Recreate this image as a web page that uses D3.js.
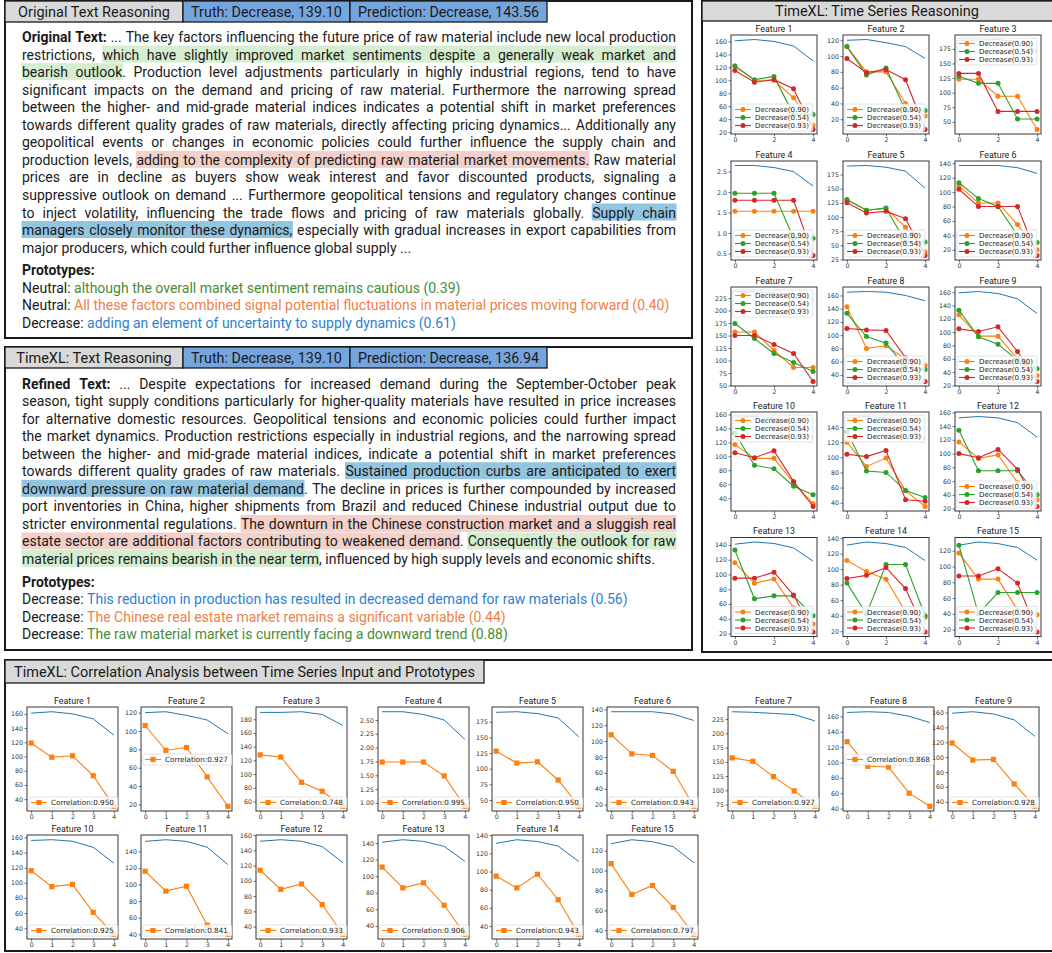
<!DOCTYPE html>
<meta charset="utf-8">
<head>
<style>
body {margin:0; background:#fff;}
</style>
</head>
<body>
<div id="fig"></div>
<script src="https://d3js.org/d3.v7.min.js"></script>
<script>
// ---- data ----
const featureNames = d3.range(1, 16).map(i => "Feature " + i);

// input series (blue line), same in both chart panels
const inputSeries = [
  [161,163,160,153,130], [120,121,117,112,97], [190,190,191,187,171],
  [2.65,2.65,2.60,2.50,2.15], [190,191,188,181,151], [137,137,137,134,126],
  [238,237,235,233,222], [165,166,165,160,152], [159,161,158,150,128],
  [156,157,155,147,126], [152,154,152,145,124], [152,154,152,145,124],
  [141,144,142,136,118], [131,135,133,128,111], [127,131,129,124,108]
];

// time series prototypes
const protoLabels = ["Decrease(0.90)", "Decrease(0.54)", "Decrease(0.93)"];
const protoOrange = [
  [122,100,100,73,30], [112,80,80,40,24], [123,123,94,94,37],
  [1.53,1.53,1.53,1.53,1.53], [130,112,115,82,38], [109,85,85,55,20],
  [157,157,120,86,86], [143,80,84,64,54], [126,94,94,60,35],
  [117,97,97,62,32], [120,88,99,56,35], [117,93,98,58,33],
  [116,88,94,55,33], [111,97,87,45,38], [117,84,84,45,39]
];
const protoGreen = [
  [122,101,106,47,47], [112,76,85,31,31], [128,116,116,55,55],
  [1.97,1.97,1.97,0.87,0.87], [131,112,116,56,56], [113,91,80,40,30],
  [174,144,114,96,78], [133,98,88,52,48], [133,93,82,58,45],
  [133,87,82,57,45], [134,82,80,56,47], [134,75,75,75,40],
  [133,67,71,71,44], [82,42,106,106,40], [127,40,67,67,67]
];
const protoRed = [
  [115,97,101,87,24], [97,79,83,70,7], [133,133,68,68,68],
  [1.80,1.80,1.80,1.80,0.45], [125,107,110,97,32], [104,80,80,80,12],
  [150,150,132,114,58], [110,108,107,66,30], [105,101,108,71,26],
  [105,98,108,64,28], [104,101,109,44,42], [100,94,106,77,23],
  [95,95,103,72,22], [88,92,102,75,19], [88,88,97,79,17]
];
const tsLegendPos = ["low","low","up","low","low","low","up","low","low","up","up","low","low","low","low"];
const tsTickStep = [20,20,25,0.5,25,20,25,20,20,20,20,20,20,20,20];
const tsXTicks = [0, 2, 4];

// correlation panel
const corrSeries = [
  [119,99,101,73,30], [106,79,82,50,18], [128,125,88,75,53],
  [1.74,1.74,1.74,1.49,0.94], [128,109,111,82,40], [108,84,82,62,18],
  [157,151,124,99,72], [127,95,94,60,43], [119,96,97,64,34],
  [116,95,98,61,32], [116,92,98,51,40], [114,89,96,69,30],
  [111,86,92,65,30], [95,82,97,69,31], [107,76,85,63,36]
];
const corrValues = ["0.950","0.927","0.748","0.995","0.950","0.943","0.927","0.868","0.928",
                    "0.925","0.841","0.933","0.906","0.943","0.797"];
const corrLegendPos = ["low","mid","low","low","low","low","low","mid","low","low","low","low","low","low","low"];
const corrTickStep = [20,20,20,0.25,25,20,25,20,20,20,20,20,20,20,20];
const corrXTicks = [0, 1, 2, 3, 4];

// text panels
const origHeader = ["Original Text Reasoning", "Truth: Decrease, 139.10", "Prediction: Decrease, 143.56"];
const origLines = [
  [["b","Original Text:"],[""," ... The key factors influencing the future price of raw material include new local production"]],
  [["","restrictions, "],["hg","which have slightly improved market sentiments despite a generally weak market and"]],
  [["hg","bearish outlook"],["",". Production level adjustments particularly in highly industrial regions, tend to have"]],
  [["","significant impacts on the demand and pricing of raw material. Furthermore the narrowing spread"]],
  [["","between the higher- and mid-grade material indices indicates a potential shift in market preferences"]],
  [["","towards different quality grades of raw materials, directly affecting pricing dynamics... Additionally any"]],
  [["","geopolitical events or changes in economic policies could further influence the supply chain and"]],
  [["","production levels, "],["hr","adding to the complexity of predicting raw material market movements."],[""," Raw material"]],
  [["","prices are in decline as buyers show weak interest and favor discounted products, signaling a"]],
  [["","suppressive outlook on demand ... Furthermore geopolitical tensions and regulatory changes continue"]],
  [["","to inject volatility, influencing the trade flows and pricing of raw materials globally. "],["hb","Supply chain"]],
  [["hb","managers closely monitor these dynamics,"],[""," especially with gradual increases in export capabilities from"]],
  [["","major producers, which could further influence global supply ..."]]
];
const origProtos = [
  [["","Neutral: "],["pg","although the overall market sentiment remains cautious (0.39)"]],
  [["","Neutral: "],["po","All these factors combined signal potential fluctuations in material prices moving forward (0.40)"]],
  [["","Decrease: "],["pb","adding an element of uncertainty to supply dynamics (0.61)"]]
];
const refHeader = ["TimeXL: Text Reasoning", "Truth: Decrease, 139.10", "Prediction: Decrease, 136.94"];
const refLines = [
  [["b","Refined Text:"],[""," ... Despite expectations for increased demand during the September-October peak"]],
  [["","season, tight supply conditions particularly for higher-quality materials have resulted in price increases"]],
  [["","for alternative domestic resources. Geopolitical tensions and economic policies could further impact"]],
  [["","the market dynamics. Production restrictions especially in industrial regions, and the narrowing spread"]],
  [["","between the higher- and mid-grade material indices, indicate a potential shift in market preferences"]],
  [["","towards different quality grades of raw materials. "],["hb","Sustained production curbs are anticipated to exert"]],
  [["hb","downward pressure on raw material demand"],["",". The decline in prices is further compounded by increased"]],
  [["","port inventories in China, higher shipments from Brazil and reduced Chinese industrial output due to"]],
  [["","stricter environmental regulations. "],["hr","The downturn in the Chinese construction market and a sluggish real"]],
  [["hr","estate sector are additional factors contributing to weakened demand"],["",". "],["hg","Consequently the outlook for raw"]],
  [["hg","material prices remains bearish in the near term"],["",", influenced by high supply levels and economic shifts."]]
];
const refProtos = [
  [["","Decrease: "],["pb","This reduction in production has resulted in decreased demand for raw materials (0.56)"]],
  [["","Decrease: "],["po","The Chinese real estate market remains a significant variable (0.44)"]],
  [["","Decrease: "],["pg","The raw material market is currently facing a downward trend (0.88)"]]
];

// ---- styling ----
const TEXT_FONT = "Roboto, 'Open Sans', sans-serif";
const PLOT_FONT = "'DejaVu Sans', sans-serif";
const hiColor = {hg:"#d6eed0", hr:"#f3d0c9", hb:"#93c4e0"};
const txtColor = {pg:"#4a8c38", po:"#ef8048", pb:"#2f7fcf"};
const C_BLUE = "#1f77b4", C_ORANGE = "#ff7f0e", C_GREEN = "#2ca02c", C_RED = "#d62728";

const svg = d3.select("#fig").append("svg").attr("width", 1052).attr("height", 953);

const meas = svg.append("text").attr("x", -1000).attr("y", -1000).attr("font-family", TEXT_FONT);
function measure(t, fs, weight, fam) {
  meas.attr("font-size", fs).attr("font-weight", weight || 400).attr("font-family", fam || TEXT_FONT);
  return meas.text(t).node().getComputedTextLength();
}

// plot font sizes fitted to widths seen in the figure
const tickFs = 10 * 12 / measure("160", 10, 400, PLOT_FONT);
const tsLegFs = 10 * 54 / measure("Decrease(0.90)", 10, 400, PLOT_FONT);
const corrLegFs = 10 * 63 / measure("Correlation:0.950", 10, 400, PLOT_FONT);
const titleFs = 10 * 37 / measure("Feature 1", 10, 400, TEXT_FONT);

function lineWords(segs) {
  const words = [[]];
  segs.forEach(([st, txt]) => {
    txt.split(" ").forEach((p, i) => {
      if (i > 0) words.push([]);
      if (p) words[words.length - 1].push({st: st, t: p});
    });
  });
  return words.filter(w => w.length);
}

function naturalWidth(segs, fs) {
  const words = lineWords(segs);
  const sp = measure("a a", fs) - measure("aa", fs);
  return d3.sum(words, w => d3.sum(w, p => measure(p.t, fs, p.st === "b" ? 700 : 400))) + sp * (words.length - 1);
}

function drawLine(g, segs, x0, yc, width, justify, fs) {
  const words = lineWords(segs);
  words.forEach(w => w.forEach(p => p.w = measure(p.t, fs, p.st === "b" ? 700 : 400)));
  const total = d3.sum(words, w => d3.sum(w, p => p.w));
  const sp = measure("a a", fs) - measure("aa", fs);
  const gap = (justify && words.length > 1) ? (width - total) / (words.length - 1) : sp;
  let x = x0;
  const hiLayer = g.append("g"), txLayer = g.append("g");
  let prev = null;
  words.forEach((w, wi) => {
    if (wi > 0) {
      const first = w[0];
      if (prev && hiColor[prev.st] && prev.st === first.st) {
        hiLayer.append("rect").attr("x", x - gap).attr("y", yc - 9).attr("width", gap + 0.5)
          .attr("height", 17).attr("fill", hiColor[first.st]);
      }
    }
    w.forEach(p => {
      if (hiColor[p.st]) {
        hiLayer.append("rect").attr("x", x - 0.5).attr("y", yc - 9).attr("width", p.w + 1)
          .attr("height", 17).attr("fill", hiColor[p.st]);
      }
      txLayer.append("text").attr("x", x).attr("y", yc + 5)
        .attr("font-family", TEXT_FONT).attr("font-size", fs)
        .attr("font-weight", p.st === "b" ? 700 : 400)
        .attr("fill", txtColor[p.st] || "#1a1a1a")
        .text(p.t);
      x += p.w;
      prev = p;
    });
    x += gap;
  });
}

function fitFont(label, target, maxFs) {
  const w = measure(label, maxFs);
  return w > target ? maxFs * target / w : maxFs;
}

function tab(x, y, w, h, label, fill, fs) {
  svg.append("rect").attr("x", x).attr("y", y).attr("width", w).attr("height", h)
    .attr("fill", fill).attr("stroke", "#1a1a1a").attr("stroke-width", 1.3);
  svg.append("text").attr("x", x + w / 2).attr("y", y + h / 2 + 5)
    .attr("text-anchor", "middle").attr("font-family", TEXT_FONT)
    .attr("font-size", fitFont(label, w - 16, fs)).attr("fill", "#1a1a1a").text(label);
}

function panel(x, y, w, h) {
  svg.append("rect").attr("x", x).attr("y", y).attr("width", w).attr("height", h)
    .attr("fill", "none").attr("stroke", "#1a1a1a").attr("stroke-width", 2);
}

// ---- text panels ----
const TX = 22, TW = 654;
let fsText = 14;
[...origLines.slice(0, -1), ...refLines.slice(0, -1)].forEach(l => {
  const nw = naturalWidth(l, 14);
  if (nw > TW - 4) fsText = Math.min(fsText, 14 * (TW - 4) / nw);
});

function textPanel(top, bottom, header, lines, protos, lineY, protoY) {
  panel(5, top, 687, bottom - top);
  const tabX = [5, 183, 350, 547];
  const fills = ["#d9d9d9", "#76a5de", "#76a5de"];
  header.forEach((h, i) => tab(tabX[i], top, tabX[i + 1] - tabX[i], 21, h, fills[i], 14.5));
  const g = svg.append("g");
  lines.forEach((l, i) => drawLine(g, l, TX, lineY + i * 17.55, TW, i < lines.length - 1, fsText));
  drawLine(g, [["b", "Prototypes:"]], TX, protoY, TW, false, fsText);
  protos.forEach((l, i) => drawLine(g, l, TX, protoY + 17.5 * (i + 1), TW, false, fsText));
}
textPanel(1, 338, origHeader, origLines, origProtos, 37, 270);
textPanel(347, 650, refHeader, refLines, refProtos, 383.5, 581.5);

// ---- small charts ----
let clipId = 0;
function drawPlot(o) {
  const g = svg.append("g");
  const xs = d3.scaleLinear().domain([-0.2, 4.2]).range([o.x, o.x + o.w]);
  const all = o.series.flatMap(s => s.v);
  const lo = d3.min(all), hi = d3.max(all), pad = (hi - lo) * 0.05;
  const ys = d3.scaleLinear().domain([lo - pad, hi + pad]).range([o.y + o.h, o.y]);
  const step = o.step;
  const ticks = d3.range(Math.ceil((lo - pad) / step - 1e-9) * step, hi + pad + 1e-9, step).map(v => +v.toFixed(4));
  const fmt = step >= 1 ? d3.format("d") : (step === 0.5 ? d3.format(".1f") : d3.format(".2f"));

  const id = "clip" + (clipId++);
  svg.append("clipPath").attr("id", id).append("rect")
    .attr("x", o.x).attr("y", o.y).attr("width", o.w).attr("height", o.h);

  const gy = g.append("g").attr("transform", `translate(${o.x},0)`)
    .call(d3.axisLeft(ys).tickValues(ticks).tickFormat(fmt).tickSize(2.5).tickPadding(1.5));
  const gx = g.append("g").attr("transform", `translate(0,${o.y + o.h})`)
    .call(d3.axisBottom(xs).tickValues(o.xticks).tickFormat(d3.format("d")).tickSize(2.5).tickPadding(1.5));
  [gy, gx].forEach(a => {
    a.select(".domain").remove();
    a.selectAll("text").attr("font-family", PLOT_FONT).attr("font-size", tickFs).attr("fill", "#333");
    a.selectAll("line").attr("stroke", "#333").attr("stroke-width", 0.7);
  });

  const plot = g.append("g").attr("clip-path", `url(#${id})`);
  const line = d3.line().x((d, i) => xs(i)).y(d => ys(d));
  o.series.forEach(s => {
    plot.append("path").attr("d", line(s.v)).attr("fill", "none")
      .attr("stroke", s.color).attr("stroke-width", s.marker ? 1.1 : 1);
    if (s.marker === "circle") {
      plot.selectAll(null).data(s.v).join("circle")
        .attr("cx", (d, i) => xs(i)).attr("cy", d => ys(d)).attr("r", 2.5).attr("fill", s.color);
    } else if (s.marker === "square") {
      plot.selectAll(null).data(s.v).join("rect")
        .attr("x", (d, i) => xs(i) - 2.6).attr("y", d => ys(d) - 2.6)
        .attr("width", 5.2).attr("height", 5.2).attr("fill", s.color);
    }
  });

  g.append("rect").attr("x", o.x).attr("y", o.y).attr("width", o.w).attr("height", o.h)
    .attr("fill", "none").attr("stroke", "#222").attr("stroke-width", 0.9);
  g.append("text").attr("x", o.x + o.w / 2).attr("y", o.y - 3.5).attr("text-anchor", "middle")
    .attr("font-family", TEXT_FONT).attr("font-size", titleFs).attr("fill", "#1a1a1a").text(o.title);

  // legend
  const items = o.series.filter(s => s.label);
  const lfs = o.legendFs;
  const rowH = 8;
  let top;
  if (o.legendPos === "up") top = o.y + 3;
  else if (o.legendPos === "mid") top = o.y + o.h / 2 - 5 - rowH * items.length / 2 + 4;
  else top = o.y + o.h - 4 - rowH * items.length - 2;
  const tw = d3.max(items, s => measure(s.label, lfs, 400, PLOT_FONT));
  const lg = g.append("g");
  lg.append("rect").attr("x", o.x + 2).attr("y", top).attr("width", 24 + tw + 2)
    .attr("height", rowH * items.length + 3).attr("rx", 1.5)
    .attr("fill", "#fff").attr("fill-opacity", 0.8).attr("stroke", "#d0d0d0").attr("stroke-width", 0.6);
  items.forEach((s, i) => {
    const cy = top + 5.5 + i * rowH;
    lg.append("line").attr("x1", o.x + 4).attr("x2", o.x + 20).attr("y1", cy).attr("y2", cy)
      .attr("stroke", s.color).attr("stroke-width", 1.1);
    if (s.marker === "circle") {
      lg.append("circle").attr("cx", o.x + 12).attr("cy", cy).attr("r", 2.5).attr("fill", s.color);
    } else {
      lg.append("rect").attr("x", o.x + 9.4).attr("y", cy - 2.6).attr("width", 5.2).attr("height", 5.2).attr("fill", s.color);
    }
    lg.append("text").attr("x", o.x + 24).attr("y", cy + lfs * 0.36)
      .attr("font-family", PLOT_FONT).attr("font-size", lfs).attr("fill", "#222").text(s.label);
  });
}

// ---- time series reasoning panel ----
panel(702, 1, 360, 651);
svg.append("rect").attr("x", 702).attr("y", 1).attr("width", 360).attr("height", 20)
  .attr("fill", "#d9d9d9").attr("stroke", "#1a1a1a").attr("stroke-width", 1.3);
svg.append("text").attr("x", 877).attr("y", 16).attr("text-anchor", "middle")
  .attr("font-family", TEXT_FONT).attr("font-size", 14.5).attr("fill", "#1a1a1a")
  .text("TimeXL: Time Series Reasoning");

const tsLefts = [731, 843, 955], tsTops = [35, 161, 287, 412, 537.5];
featureNames.forEach((name, i) => {
  drawPlot({
    x: tsLefts[i % 3], y: tsTops[Math.floor(i / 3)], w: 86, h: 99, title: name,
    step: tsTickStep[i], xticks: tsXTicks, legendPos: tsLegendPos[i], legendFs: tsLegFs,
    series: [
      {v: inputSeries[i], color: C_BLUE},
      {v: protoOrange[i], color: C_ORANGE, marker: "circle", label: protoLabels[0]},
      {v: protoGreen[i], color: C_GREEN, marker: "circle", label: protoLabels[1]},
      {v: protoRed[i], color: C_RED, marker: "circle", label: protoLabels[2]}
    ]
  });
});

// ---- correlation panel ----
panel(5, 660, 1060, 291);
tab(5, 660, 479, 23, "TimeXL: Correlation Analysis between Time Series Input and Prototypes", "#d9d9d9", 14.5);

const corrLefts = [27, 141, 256, 378, 492, 607, 728, 843, 948, 27, 141, 256, 378, 492, 607];
const corrTops = [707, 835];
featureNames.forEach((name, i) => {
  drawPlot({
    x: corrLefts[i], y: corrTops[i < 9 ? 0 : 1], w: 91, h: 104, title: name,
    step: corrTickStep[i], xticks: corrXTicks, legendPos: corrLegendPos[i], legendFs: corrLegFs,
    series: [
      {v: inputSeries[i], color: C_BLUE},
      {v: corrSeries[i], color: C_ORANGE, marker: "square", label: "Correlation:" + corrValues[i]}
    ]
  });
});

meas.remove();
</script>
</body>
</html>
